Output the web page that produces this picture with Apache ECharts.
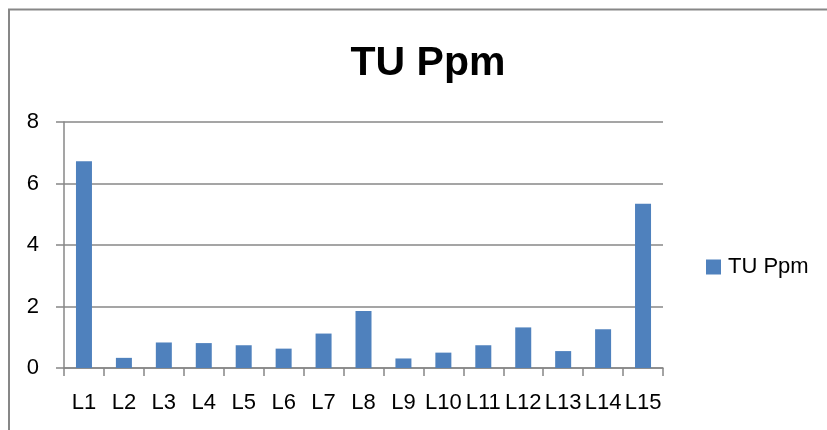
<!DOCTYPE html>
<html>
<head>
<meta charset="utf-8">
<script src="https://cdn.jsdelivr.net/npm/echarts@6/dist/echarts.min.js"></script>
<style>html,body{margin:0;padding:0;background:#fff}#c{width:827px;height:430px}</style>
</head>
<body>
<div id="c"></div>
<script>
var categories = ['L1','L2','L3','L4','L5','L6','L7','L8','L9','L10','L11','L12','L13','L14','L15'];
var tuPpm = [6.72, 0.33, 0.83, 0.81, 0.74, 0.63, 1.12, 1.85, 0.31, 0.50, 0.74, 1.32, 0.55, 1.26, 5.34];
var seriesName = 'TU Ppm';
var titleText = 'TU Ppm';

var FONT = 'Liberation Sans';
var chart = echarts.init(document.getElementById('c'), null, {renderer: 'canvas'});
chart.setOption({
  animation: false,
  backgroundColor: '#fff',
  textStyle: {fontFamily: FONT},
  graphic: [{
    type: 'rect', silent: true, z: -1,
    shape: {x: 9, y: 9.5, width: 900, height: 500},
    style: {fill: 'none', stroke: '#878787', lineWidth: 2}
  }],
  title: {
    text: titleText, left: 423, top: 38, textAlign: 'center',
    textStyle: {fontFamily: FONT, fontSize: 41, fontWeight: 'bold', color: '#000'}
  },
  legend: {
    left: 701, top: 251, itemWidth: 15, itemHeight: 15, itemGap: 6,
    icon: 'rect',
    textStyle: {fontFamily: FONT, fontSize: 22, color: '#000', padding: [0,0,0,2]},
    data: [seriesName]
  },
  grid: {left: 64, right: 164, top: 122, bottom: 62, containLabel: false},
  xAxis: {
    type: 'category', data: categories, boundaryGap: true,
    axisLine: {lineStyle: {color: '#878787', width: 1.5}},
    axisTick: {show: true, length: 8, alignWithLabel: false, lineStyle: {color: '#878787', width: 1.5}},
    axisLabel: {fontFamily: FONT, fontSize: 22, color: '#000', margin: 24, interval: 0}
  },
  yAxis: {
    type: 'value', min: 0, max: 8, interval: 2,
    axisLine: {show: true, lineStyle: {color: '#878787', width: 1.5}},
    axisTick: {show: true, length: 8, lineStyle: {color: '#878787', width: 1.5}},
    splitLine: {lineStyle: {color: '#878787', width: 1.5}},
    axisLabel: {fontFamily: FONT, fontSize: 22, color: '#000', margin: 25}
  },
  series: [{
    name: seriesName, type: 'bar', data: tuPpm, barWidth: 16,
    itemStyle: {color: '#4F81BD'}
  }]
});
</script>
</body>
</html>
